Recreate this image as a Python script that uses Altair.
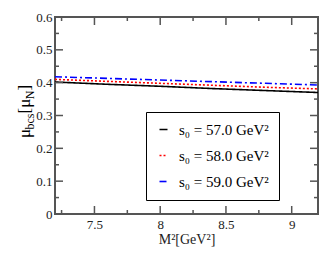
import altair as alt
import pandas as pd

# ---- data ----
m2 = [7.2, 7.6, 8.0, 8.4, 8.8, 9.2]
mu_57 = [0.402, 0.395, 0.389, 0.382, 0.376, 0.370]
mu_58 = [0.410, 0.404, 0.398, 0.392, 0.386, 0.381]
mu_59 = [0.418, 0.413, 0.408, 0.403, 0.398, 0.393]
labels = ["s₀ = 57.0 GeV²", "s₀ = 58.0 GeV²", "s₀ = 59.0 GeV²"]
colors = ["#000000", "#ff0000", "#0000ff"]
dashes = [[1, 0], [2, 2], [7, 3, 2, 3]]

x_major = [7.5, 8.0, 8.5, 9.0]
x_minor = [7.25, 7.75, 8.25, 8.75]
y_major = [0.0, 0.1, 0.2, 0.3, 0.4, 0.5, 0.6]
y_minor = [0.05, 0.15, 0.25, 0.35, 0.45, 0.55]

W, H = 263, 197
FONT = "Liberation Serif"

rows = []
for lab, ys in zip(labels, [mu_57, mu_58, mu_59]):
    for xv, yv in zip(m2, ys):
        rows.append({"M2": xv, "mu": yv, "s0": lab})
df = pd.DataFrame(rows)

xs = alt.Scale(domain=[7.2, 9.2], nice=False, zero=False)
ys_ = alt.Scale(domain=[0, 0.6], nice=False, zero=False)

xaxis = alt.Axis(values=x_major, format="~g", title="M²[GeV²]")
yaxis = alt.Axis(values=y_major, format="~g", title=None)

leg = dict(title=None, orient="none", legendX=91, legendY=95,
           strokeColor="#000", fillColor="#fff", padding=10, rowPadding=10,
           labelFont=FONT, labelFontSize=15, labelColor="#000",
           symbolType="stroke", symbolSize=64, symbolStrokeWidth=1.6,
           labelOffset=8, cornerRadius=0)

lines = alt.Chart(df).mark_line(strokeWidth=1.6, clip=True).encode(
    x=alt.X("M2:Q", scale=xs, axis=xaxis),
    y=alt.Y("mu:Q", scale=ys_, axis=yaxis),
    color=alt.Color("s0:N", scale=alt.Scale(domain=labels, range=colors),
                    legend=alt.Legend(**leg)),
    strokeDash=alt.StrokeDash("s0:N", scale=alt.Scale(domain=labels, range=dashes),
                              legend=alt.Legend(**leg)),
)

TC = "#555"

def xticks(vals, length):
    d = pd.DataFrame({"v": vals})
    bot = alt.Chart(d).mark_rule(color=TC, strokeWidth=1.5).encode(
        x=alt.X("v:Q", scale=xs, axis=xaxis), y=alt.value(H), y2=alt.value(H - length))
    top = alt.Chart(d).mark_rule(color=TC, strokeWidth=1.5).encode(
        x=alt.X("v:Q", scale=xs, axis=xaxis), y=alt.value(0), y2=alt.value(length))
    return bot + top

def yticks(vals, length):
    d = pd.DataFrame({"v": vals})
    lef = alt.Chart(d).mark_rule(color=TC, strokeWidth=1.5).encode(
        y=alt.Y("v:Q", scale=ys_, axis=yaxis), x=alt.value(0), x2=alt.value(length))
    rig = alt.Chart(d).mark_rule(color=TC, strokeWidth=1.5).encode(
        y=alt.Y("v:Q", scale=ys_, axis=yaxis), x=alt.value(W), x2=alt.value(W - length))
    return lef + rig

def piece(txt, x, y, size):
    return alt.Chart(pd.DataFrame({"t": [txt]})).mark_text(
        angle=270, align="left", baseline="alphabetic", font=FONT,
        fontSize=size, color="#000").encode(
        text="t:N", x=alt.value(x), y=alt.value(y))

title_y = (piece("μ", -25, 121, 17) + piece("bcs", -21, 112.5, 12)
           + piece("[μ", -25, 96.5, 17) + piece("N", -21, 82.3, 12)
           + piece("]", -25, 73.6, 17))

chart = alt.layer(
    lines,
    xticks(x_major, 8), xticks(x_minor, 4),
    yticks(y_major, 8), yticks(y_minor, 4),
    title_y,
).resolve_scale(x="shared", y="shared").properties(
    width=W, height=H, background="#ffffff",
    autosize=alt.AutoSizeParams(type="none"),
    padding={"left": 47, "top": 9, "right": 6, "bottom": 35},
).configure_view(stroke=TC, strokeWidth=2).configure_axis(
    ticks=False, domain=False, grid=False, labelOverlap=False,
    labelFont=FONT, labelFontSize=13, labelColor="#222",
    titleFont=FONT, titleFontSize=14, titleFontWeight="normal",
    titleColor="#222",
).configure_axisX(labelPadding=4, titlePadding=1).configure_axisY(labelPadding=3)

chart.save("out.html", embed_options={"renderer": "svg", "actions": False})
